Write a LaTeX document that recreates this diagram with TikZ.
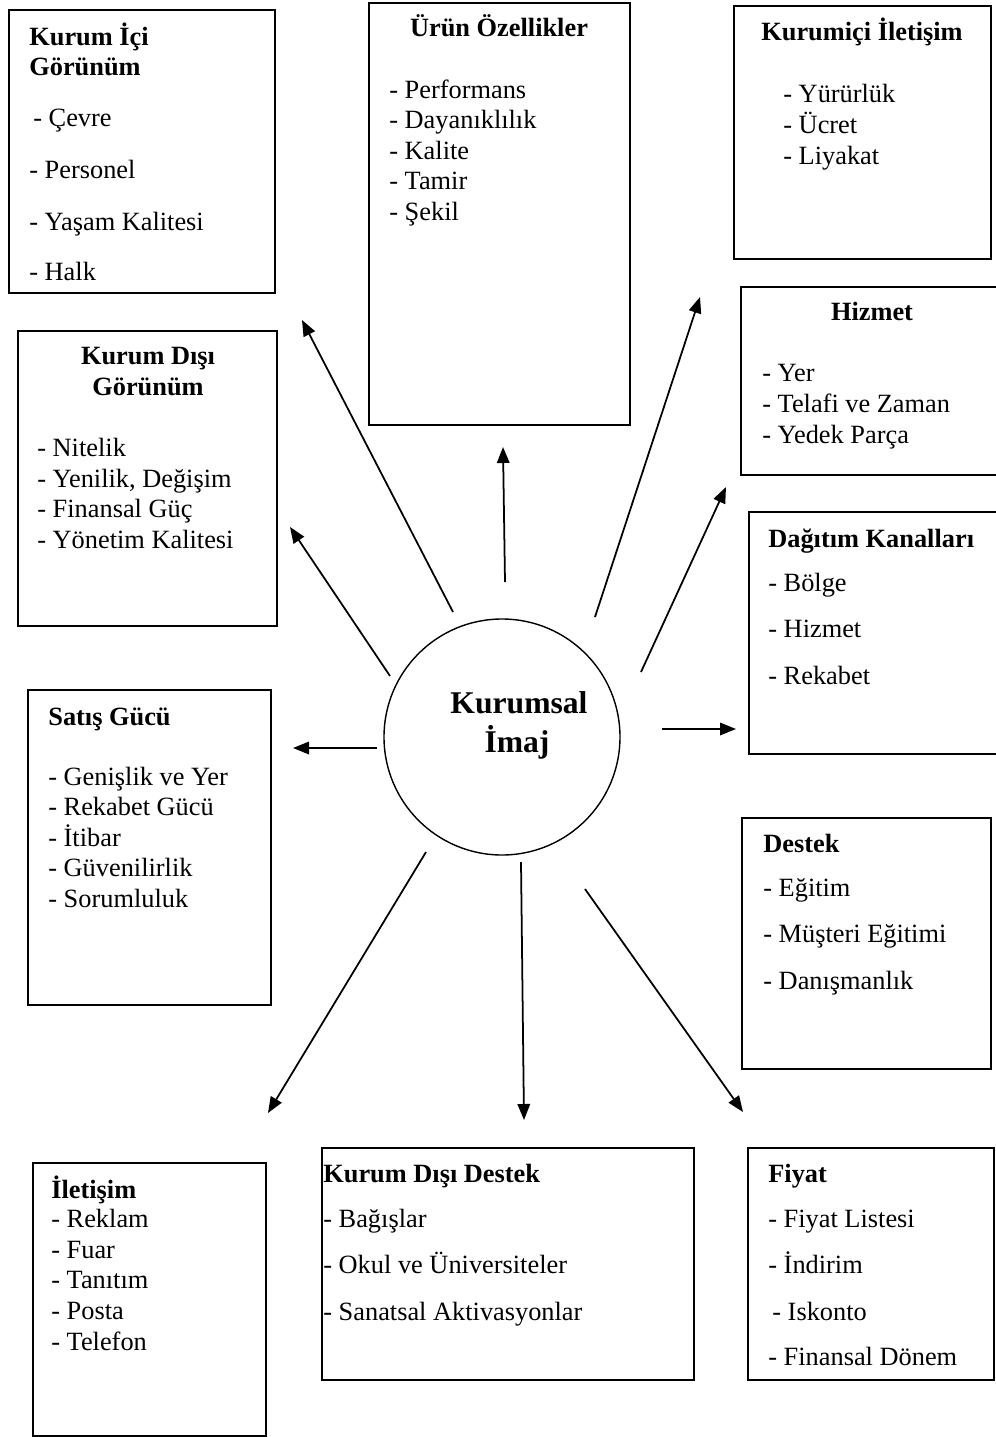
\documentclass[tikz,border=0pt]{standalone}
\usepackage{fontspec}
\setmainfont{Liberation Serif}
\usetikzlibrary{arrows.meta}

\tikzset{
  box/.style 2 args={draw, line width=1.1pt, rectangle, anchor=north west, inner sep=0pt,
    minimum width=#1*0.02cm, minimum height=#2*0.02cm},
  txt/.style={anchor=base west, inner sep=0pt, font=\fontsize{15}{18}\selectfont},
  head/.style={txt, font=\fontsize{15}{18}\selectfont\bfseries},
  headc/.style={head, anchor=base},
  big/.style={anchor=base, inner sep=0pt, font=\fontsize{18}{22}\selectfont\bfseries},
  arr/.style={line width=1pt, -{Triangle[length=0.32cm,width=0.25cm]}},
}

\begin{document}
\begin{tikzpicture}[x=0.02cm, y=-0.02cm]
\clip (0,0) rectangle (996,1437);
% boxes
\node[box={266}{283}] (kii) at (8,9) {};
\node[box={261}{422}] (urun) at (368,2) {};
\node[box={257}{253}] (kic) at (733,5) {};
\node[box={262}{188}] (hiz) at (740,286) {};
\node[box={259}{295}] (kdg) at (17,330) {};
\node[box={255}{242}] (dag) at (748,511) {};
\node[box={243}{315}] (sat) at (27,689) {};
\node[box={249}{251}] (des) at (741,817) {};
\node[box={233}{273}] (ilt) at (32,1162) {};
\node[box={372}{232}] (kdd) at (321,1147) {};
\node[box={246}{232}] (fiy) at (747,1147) {};
% center
\node[draw, circle, line width=0.8pt, inner sep=0pt, minimum size=236*0.02cm] (core) at (502,737) {};
\node[big] (core-1) at (519,713) {Kurumsal};
\node[big] (core-2) at (517,752) {İmaj};
% headings
\node[head] (kii-h1) at (29,45) {Kurum İçi};
\node[head] (kii-h2) at (29,75) {Görünüm};
\node[headc] (urun-h) at (499,36) {Ürün Özellikler};
\node[headc] (kic-h) at (862,40) {Kurumiçi İletişim};
\node[headc] (hiz-h) at (872,320) {Hizmet};
\node[headc] (kdg-h1) at (148,364) {Kurum Dışı};
\node[headc] (kdg-h2) at (148,395) {Görünüm};
\node[head] (dag-h) at (768,547) {Dağıtım Kanalları};
\node[head] (sat-h) at (48,725) {Satış Gücü};
\node[head] (des-h) at (763,852) {Destek};
\node[head] (ilt-h) at (51,1198) {İletişim};
\node[head] (kdd-h) at (323,1182) {Kurum Dışı Destek};
\node[head] (fiy-h) at (768,1182) {Fiyat};
% items
\foreach \x/\y/\t [count=\i] in {33/126/Çevre, 29/178/Personel, 29/230/Yaşam Kalitesi, 29/280/Halk}
  \node[txt] (kii-\i) at (\x,\y) {- \t};
\foreach \y/\t [count=\i] in {98/Performans, 128.5/Dayanıklılık, 159/Kalite, 189.5/Tamir, 220/Şekil}
  \node[txt] (urun-\i) at (389,\y) {- \t};
\foreach \y/\t [count=\i] in {102/Yürürlük, 133/Ücret, 164/Liyakat}
  \node[txt] (kic-\i) at (783,\y) {- \t};
\foreach \y/\t [count=\i] in {381/Yer, 412/Telafi ve Zaman, 443/Yedek Parça}
  \node[txt] (hiz-\i) at (762,\y) {- \t};
\foreach \y/\t [count=\i] in {456/Nitelik, 487/{Yenilik, Değişim}, 517/Finansal Güç, 548/Yönetim Kalitesi}
  \node[txt] (kdg-\i) at (37,\y) {- \t};
\foreach \y/\t [count=\i] in {591/Bölge, 637/Hizmet, 684/Rekabet}
  \node[txt] (dag-\i) at (768,\y) {- \t};
\foreach \y/\t [count=\i] in {785/Genişlik ve Yer, 815.5/Rekabet Gücü, 846/İtibar, 876.5/Güvenilirlik, 907/Sorumluluk}
  \node[txt] (sat-\i) at (48,\y) {- \t};
\foreach \y/\t [count=\i] in {896/Eğitim, 942/Müşteri Eğitimi, 989/Danışmanlık}
  \node[txt] (des-\i) at (763,\y) {- \t};
\foreach \y/\t [count=\i] in {1227/Reklam, 1258/Fuar, 1288/Tanıtım, 1319/Posta, 1350/Telefon}
  \node[txt] (ilt-\i) at (51,\y) {- \t};
\foreach \y/\t [count=\i] in {1227/Bağışlar, 1273/Okul ve Üniversiteler, 1320/Sanatsal Aktivasyonlar}
  \node[txt] (kdd-\i) at (323,\y) {- \t};
\foreach \x/\y/\t [count=\i] in {768/1227/Fiyat Listesi, 768/1273/İndirim, 772/1320/Iskonto, 768/1365/Finansal Dönem}
  \node[txt] (fiy-\i) at (\x,\y) {- \t};
% arrows
\foreach \n/\sx/\sy/\ex/\ey in {kii/453/612/302/320, urun/505/582/503/447, kic/595/617/700/297,
    kdg/390/676/290/527, hiz/641/672/726/487, sat/377/748/293/748, dag/662/729/736/729,
    ilt/426/852/268/1113, kdd/521/862/524/1120, fiy/585/889/743/1112} {
  \coordinate (s-\n) at (\sx,\sy);
  \coordinate (e-\n) at (\ex,\ey);
  \draw[arr] (s-\n) -- (e-\n);
}
\end{tikzpicture}
\end{document}
